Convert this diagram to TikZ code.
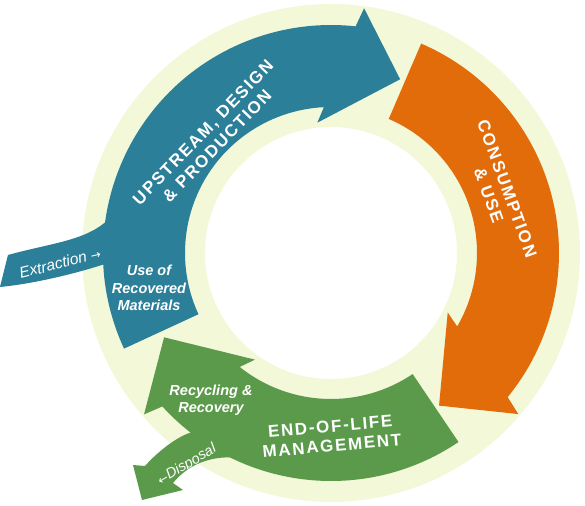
\documentclass[tikz,border=0pt]{standalone}
\usepackage{fontspec}
\setmainfont{Liberation Sans}
\newfontfamily\spacedfont[LetterSpace=10]{Liberation Sans}
\newfontfamily\arrowfont{DejaVu Sans}
\definecolor{ringc}{HTML}{F3F8D8}
\definecolor{tealc}{HTML}{2B7F98}
\definecolor{orangec}{HTML}{E36C0A}
\definecolor{greenc}{HTML}{5A9A4A}
\begin{document}
\begin{tikzpicture}[x=1pt,y=1pt,
  bandtext/.style={text=white, font=\spacedfont\bfseries\fontsize{17}{19.5}\selectfont, align=center, inner sep=0pt},
  smallbold/.style={text=white, font=\bfseries\itshape\fontsize{14.5}{17.5}\selectfont, align=center, inner sep=0pt},
  smallit/.style={text=white, font=\itshape\fontsize{15.5}{17}\selectfont, inner sep=0pt}]
\useasboundingbox (-331,-252) rectangle (254,253);
% pale ring
\fill[ringc, even odd rule] (0,0) circle (249) (0,0) circle (126);
% teal: upstream
\fill[tealc] (204.8:228) arc[start angle=204.8, end angle=83.8, radius=228]
  -- (82.3:247) -- (68.3:187) -- (96:131) -- (92.8:146)
  arc[start angle=92.8, end angle=204.8, radius=146] -- cycle;
% extraction branch
\fill[tealc] (-323,-2) .. controls (-280,10) and (-245,12) .. (-222,34)
  -- (-190,30) -- (-190,-15) -- (-226,-11)
  .. controls (-260,-22) and (-300,-31) .. (-331,-34) -- cycle;
% orange: consumption
\fill[orangec] (66.7:228) arc[start angle=66.7, end angle=-39.2, radius=228]
  -- (-40.7:247) -- (-54.7:187) -- (-27:131) -- (-30.2:146)
  arc[start angle=-30.2, end angle=66.7, radius=146] -- cycle;
% green: end of life
\fill[greenc] (304:228) arc[start angle=304, end angle=222.3, radius=228]
  -- (220.8:247) -- (206.8:187) -- (234.5:131) -- (231.3:146)
  arc[start angle=231.3, end angle=304, radius=146] -- cycle;
% disposal branch
\fill[greenc] (232:228) .. controls (-150,-182) and (-170,-195) .. (-186,-213)
  -- (-198,-212) -- (-189,-247) -- (-148,-237) -- (-158,-230)
  .. controls (-145,-214) and (-125,-204) .. (243.7:228)
  -- (243.7:200) -- (232:200) -- cycle;
% texts
\node[bandtext, rotate=46] (ups) at (-121,114) {UPSTREAM, DESIGN\\\& PRODUCTION};
\node[bandtext, rotate=-70] (cons) at (167,61) {CONSUMPTION\\\& USE};
\node[bandtext, rotate=5] (eol) at (0,-183) {END-OF-LIFE\\MANAGEMENT};
\node[smallbold] (urm) at (-182,-35) {Use of\\Recovered\\Materials};
\node[smallbold] (rr) at (-120,-147) {Recycling \&\\Recovery};
\node[smallit, rotate=14] (ext) at (-271,-10) {Extraction {\arrowfont\fontsize{12}{12}\selectfont →}};
\node[smallit, rotate=31, font=\itshape\fontsize{14.5}{17}\selectfont] (disp) at (-144,-212) {{\arrowfont\fontsize{12}{12}\selectfont ←}Disposal};
\end{tikzpicture}
\end{document}
